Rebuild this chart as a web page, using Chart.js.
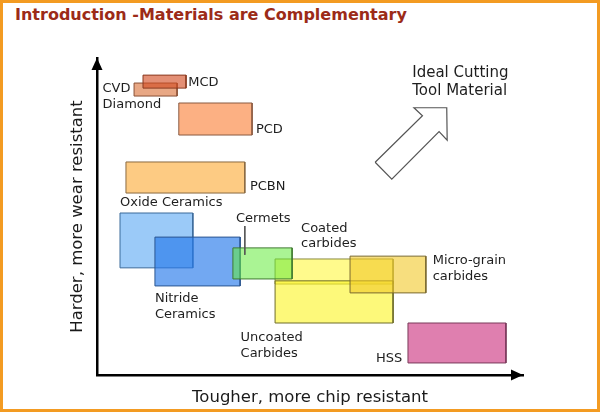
<!DOCTYPE html>
<html>
<head>
<meta charset="utf-8">
<title>Materials are Complementary</title>
<script src="https://cdn.jsdelivr.net/npm/chart.js@4.4.1/dist/chart.umd.min.js"></script>
<style>
html, body { margin: 0; padding: 0; background: #fff; }
#frame { position: absolute; left: 0; top: 0; width: 600px; height: 412px; box-sizing: border-box; border: 3px solid #f39b22; }
#title { position: absolute; left: 15px; top: 5px; font: bold 16px "DejaVu Sans", Verdana, sans-serif; line-height: 20px; color: #9c2b18; white-space: nowrap; }
#wrap { position: absolute; left: 0; top: 0; width: 600px; height: 412px; }
</style>
</head>
<body>
<div id="frame"></div>
<div id="title">Introduction -Materials are Complementary</div>
<div id="wrap"><canvas id="toolChart"></canvas></div>
<script>
// materials, in paint order (first = bottom)
var materials = ["PCD", "PCBN", "CVD Diamond", "MCD", "Oxide Ceramics", "Nitride Ceramics",
                 "Coated carbides", "Uncoated Carbides", "Cermets", "Micro-grain carbides", "HSS"];
// toughness range (x, 0-100)
var toughLow  = [19.2,  6.8,  8.7, 10.8,  5.4, 13.6, 41.8, 41.8, 31.9, 59.4, 73.0];
var toughHigh = [36.4, 34.7, 18.8, 20.9, 22.5, 33.6, 69.5, 69.5, 45.8, 77.2, 96.0];
// hardness range (y, 0-100)
var hardLow   = [75.7, 57.4, 88.0, 90.5, 33.8, 28.1, 28.7, 16.4, 30.3, 25.9,  3.8];
var hardHigh  = [85.8, 67.2, 92.1, 94.6, 51.1, 43.5, 36.6, 29.7, 40.1, 37.5, 16.4];

// text labels
var labelText = ["MCD", "CVD\nDiamond", "PCD", "PCBN", "Oxide Ceramics", "Cermets", "Coated\ncarbides",
                 "Micro-grain\ncarbides", "Nitride\nCeramics", "Uncoated\nCarbides", "HSS", "Ideal Cutting\nTool Material"];
var labelX = [21.4, 1.3, 37.3, 35.9, 5.4, 32.6, 47.9, 78.8, 13.6, 33.7, 65.5, 74.0];
var labelY = [92.3, 90.2, 77.3, 59.4, 54.4, 49.4, 46.3, 36.1, 24.2, 11.9,  5.1, 95.2];

// leader from "Cermets" into its box
var leaderX = [34.7, 34.7];
var leaderY = [47.0, 37.9];

// "ideal" arrow outline
var arrowX = [65.3, 76.4, 74.4, 82.1, 82.2, 80.3, 69.2, 65.3];
var arrowY = [67.1, 81.8, 84.3, 84.3, 74.1, 76.8, 61.8, 67.1];

// styles
var fillColors = ["rgba(251,150,90,0.75)", "rgba(252,185,90,0.75)", "rgba(222,130,80,0.7)", "rgba(210,75,33,0.62)",
                  "rgba(56,150,242,0.5)", "rgba(38,121,235,0.65)", "rgba(255,246,50,0.56)", "rgba(252,245,40,0.62)",
                  "rgba(100,235,60,0.55)", "rgba(242,200,40,0.6)", "rgba(215,95,155,0.8)"];
var edgeColors = ["#8a5a40", "#8a6a40", "#8a5035", "#8a3a20", "#3a6a9a", "#2a5590", "#8a8a40", "#6f6d2a",
                  "#3f7a30", "#7a6a30", "#7a3a5a"];
var labelSize = [13, 13, 13, 13, 13, 13, 13, 13, 13, 13, 13, 15];
var fontFamily = '"DejaVu Sans", Verdana, sans-serif';

var datasets = [];
for (var i = 0; i < materials.length; i++) {
    datasets.push({
        label: materials[i] + " area",
        data: [{x: toughLow[i], y: hardHigh[i]}, {x: toughHigh[i], y: hardHigh[i]}],
        fill: {value: hardLow[i]},
        backgroundColor: fillColors[i],
        borderColor: "rgba(0,0,0,0)",
        borderWidth: 0,
        pointRadius: 0
    });
    datasets.push({
        label: materials[i],
        data: [{x: toughLow[i], y: hardLow[i]}, {x: toughLow[i], y: hardHigh[i]},
               {x: toughHigh[i], y: hardHigh[i]}, {x: toughHigh[i], y: hardLow[i]},
               {x: toughLow[i], y: hardLow[i]}],
        fill: false,
        borderColor: edgeColors[i],
        borderWidth: 1,
        pointRadius: 0
    });
}
datasets.push({
    label: "leader",
    data: leaderX.map(function (x, k) { return {x: x, y: leaderY[k]}; }),
    fill: false, borderColor: "#555", borderWidth: 1, pointRadius: 0
});
datasets.push({
    label: "ideal",
    data: arrowX.map(function (x, k) { return {x: x, y: arrowY[k]}; }),
    fill: false, borderColor: "#555", borderWidth: 1.2, pointRadius: 0, borderJoinStyle: "miter"
});
datasets.forEach(function (d, k) { d.order = datasets.length - k; });

var labelPlugin = {
    id: "materialLabels",
    afterDatasetsDraw: function (chart) {
        var ctx = chart.ctx, xs = chart.scales.x, ys = chart.scales.y;
        ctx.save();
        ctx.fillStyle = "#1e1e1e";
        ctx.textBaseline = "middle";
        ctx.textAlign = "left";
        for (var i = 0; i < labelText.length; i++) {
            var size = labelSize[i];
            ctx.font = size + "px " + fontFamily;
            var lines = labelText[i].split("\n");
            for (var j = 0; j < lines.length; j++) {
                ctx.fillText(lines[j], xs.getPixelForValue(labelX[i]), ys.getPixelForValue(labelY[i]) + j * size * 1.22);
            }
        }
        ctx.restore();
    }
};

// arrow heads on the two axes
var axisArrows = {
    id: "axisArrows",
    afterDraw: function (chart) {
        var a = chart.chartArea, ctx = chart.ctx;
        ctx.save();
        ctx.fillStyle = "#000";
        ctx.beginPath();
        ctx.moveTo(a.left, a.top);
        ctx.lineTo(a.left - 5.5, a.top + 12);
        ctx.lineTo(a.left + 5.5, a.top + 12);
        ctx.closePath();
        ctx.fill();
        ctx.beginPath();
        ctx.moveTo(a.right, a.bottom);
        ctx.lineTo(a.right - 12, a.bottom - 5.5);
        ctx.lineTo(a.right - 12, a.bottom + 5.5);
        ctx.closePath();
        ctx.fill();
        ctx.restore();
    }
};

var myChart = new Chart(document.getElementById("toolChart"), {
    type: "line",
    data: {datasets: datasets},
    plugins: [labelPlugin, axisArrows],
    options: {
        responsive: true,
        maintainAspectRatio: false,
        animation: false,
        layout: {padding: {left: 67.6, right: 77, top: 58, bottom: 0}},
        plugins: {legend: {display: false}, tooltip: {enabled: false}},
        scales: {
            x: {
                type: "linear", min: 0, max: 100,
                grid: {display: false, drawTicks: false},
                ticks: {display: false},
                border: {display: true, color: "#000", width: 2.5},
                title: {display: true, text: "Tougher, more chip resistant", color: "#1a1a1a",
                        font: {family: fontFamily, size: 16.5}, padding: {top: 13.2, bottom: 4}}
            },
            y: {
                type: "linear", min: 0, max: 100,
                grid: {display: false, drawTicks: false},
                ticks: {display: false},
                border: {display: true, color: "#000", width: 2.5},
                title: {display: true, text: "Harder, more wear resistant", color: "#1a1a1a",
                        font: {family: fontFamily, size: 16.5}, padding: {top: 0, bottom: 9.6}}
            }
        }
    }
});
</script>
</body>
</html>
